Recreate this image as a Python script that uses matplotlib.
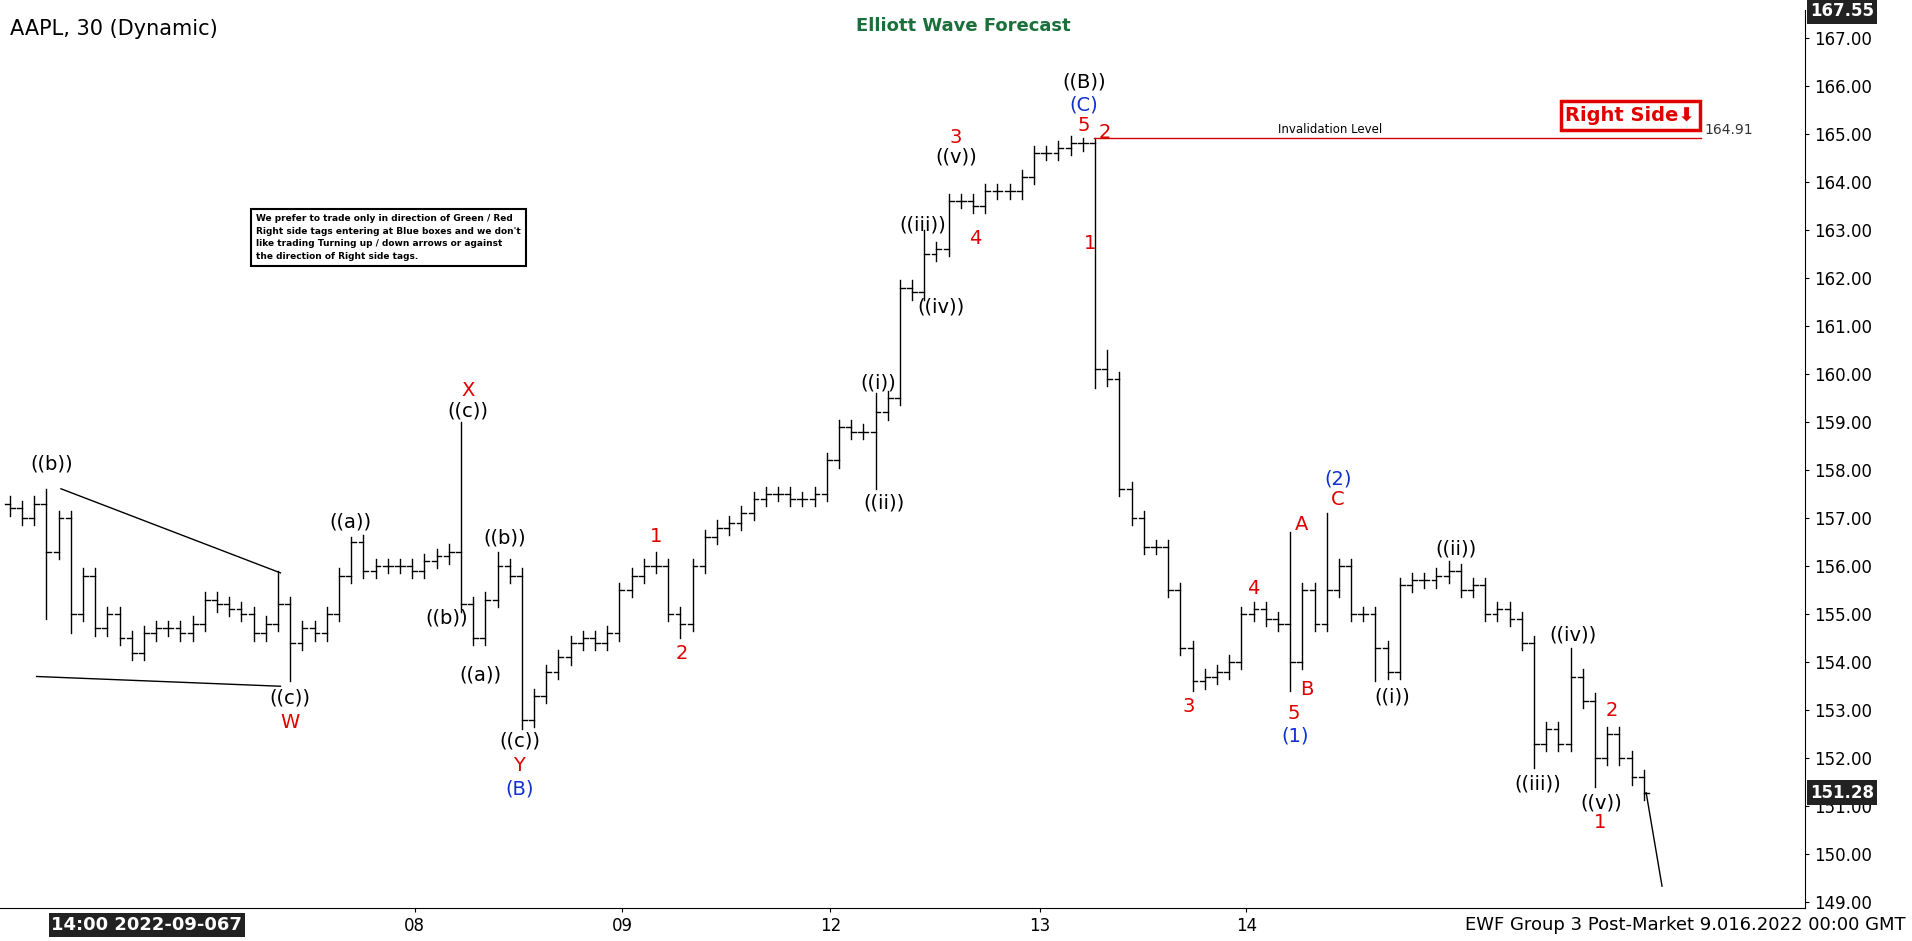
import matplotlib
matplotlib.use("Agg")
import matplotlib.pyplot as plt
from matplotlib.patches import Rectangle

closes = [157.2,157.0,157.3,156.3,157.0,155.0,155.8,154.7,155.0,154.5,154.2,154.6,154.7,154.7,154.6,154.8,
          155.3,155.2,155.1,155.0,154.6,154.8,155.2,154.4,154.7,154.6,155.0,155.8,156.5,155.9,156.0,156.0,
          156.0,155.9,156.1,156.2,156.3,155.2,154.5,155.3,156.0,155.8,152.8,153.3,153.8,154.1,154.4,154.5,
          154.4,154.6,155.5,155.8,156.0,156.0,155.0,154.8,156.0,156.6,156.8,156.9,157.1,157.4,157.5,157.5,
          157.4,157.4,157.5,158.2,158.9,158.8,158.8,159.2,159.5,161.8,161.7,162.5,162.6,163.6,163.6,163.5,
          163.8,163.8,163.8,164.1,164.6,164.6,164.7,164.8,164.8,160.1,159.9,157.6,157.0,156.4,156.4,155.5,
          154.3,153.6,153.7,153.8,154.0,155.0,155.1,154.9,154.8,154.0,155.5,154.8,155.5,156.0,155.0,155.0,
          154.3,153.8,155.6,155.7,155.7,155.8,155.9,155.5,155.6,155.0,155.1,154.9,154.4,152.3,152.6,152.3,
          153.7,153.2,152.0,152.5,152.0,151.6,151.28]
spike_high = {3:157.6, 22:155.9, 28:156.6, 37:159.0, 40:156.3, 53:156.3, 71:159.6, 75:163.0, 88:164.91, 89:164.91, 90:160.5, 105:156.7, 108:157.1, 118:156.1, 128:154.3}
spike_low = {3:154.9, 5:154.6, 23:153.6, 42:152.6, 55:154.5, 71:157.6, 89:159.7, 97:153.4, 105:153.4, 112:153.6, 125:151.8, 130:151.4}
day_labels = ["08","09","12","13","14"]
day_ticks_px = [340,510,681,853,1022]

W, H = 1568, 772
fig = plt.figure(figsize=(19.12, 9.41), dpi=100)
ax = fig.add_axes([0, 1-745/H, 1480/W, (745-8)/H])
def py(y): return 167 - (y-31)/39.4
ax.set_xlim(0, 1480); ax.set_ylim(py(745), py(8))

prev = closes[0]+0.1
for i, c in enumerate(closes):
    x = 8 + 10*i
    o = prev
    hi = spike_high.get(i, max(o, c)+0.15)
    lo = spike_low.get(i, min(o, c)-0.15)
    ax.plot([x, x], [lo, hi], color='black', lw=1)
    ax.plot([x-4, x], [o, o], color='black', lw=1)
    ax.plot([x, x+4], [c, c], color='black', lw=1)
    prev = c
ax.plot([1350, 1363], [151.28, py(727)], color='black', lw=1)
ax.plot([30, 230], [py(555), py(563)], color='black', lw=1)
ax.plot([50, 230], [py(401), py(470)], color='black', lw=1)
ax.plot([897, 1395], [164.91, 164.91], color='#d00000', lw=1)

labels = [(42,381,'((b))','k'),(287,428,'((a))','k'),(238,573,'((c))','k'),(238,593,'W','r'),
          (384,320,'X','r'),(384,337,'((c))','k'),(366,507,'((b))','k'),(394,554,'((a))','k'),
          (414,441,'((b))','k'),(426,608,'((c))','k'),(426,628,'Y','r'),(426,647,'(B)','b'),
          (538,440,'1','r'),(559,536,'2','r'),(720,314,'((i))','k'),(725,413,'((ii))','k'),
          (757,185,'((iii))','k'),(772,252,'((iv))','k'),(784,129,'((v))','k'),(784,113,'3','r'),
          (800,196,'4','r'),(889,67,'((B))','k'),(889,86,'(C)','b'),(889,103,'5','r'),(906,109,'2','r'),
          (894,200,'1','r'),(975,580,'3','r'),(1028,483,'4','r'),(1067,430,'A','r'),(1061,585,'5','r'),
          (1072,566,'B','r'),(1062,604,'(1)','b'),(1097,393,'(2)','b'),(1097,410,'C','r'),
          (1142,572,'((i))','k'),(1194,450,'((ii))','k'),(1261,643,'((iii))','k'),(1290,521,'((iv))','k'),
          (1322,583,'2','r'),(1313,659,'((v))','k'),(1312,675,'1','r')]
cmap = {'k':'black','r':'#e00000','b':'#1030d0'}
for x, y, t, c in labels:
    ax.text(x, py(y), t, color=cmap[c], fontsize=14, ha='center', va='center')

ax.text(1091, py(106), 'Invalidation Level', fontsize=8.5, ha='center', va='center')
ax.text(1398, py(107), '164.91', fontsize=10, ha='left', va='center', color='#333333')
ax.text(1337, py(95), 'Right Side\u2b07', fontsize=14, fontweight='bold', color='#e00000', ha='center', va='center',
        bbox=dict(boxstyle='square,pad=0.25', fc='white', ec='#e00000', lw=2.5))
ax.text(210, py(195),
        "We prefer to trade only in direction of Green / Red\nRight side tags entering at Blue boxes and we don't\n"
        "like trading Turning up / down arrows or against\nthe direction of Right side tags.",
        fontsize=6.5, fontweight='bold', ha='left', va='center', linespacing=1.5,
        bbox=dict(boxstyle='square,pad=0.6', fc='white', ec='black', lw=1.5))

ax.yaxis.tick_right()
ax.set_yticks(range(149, 168))
ax.set_yticklabels([f"{v:.2f}" for v in range(149, 168)], fontsize=12)
ax.set_xticks(day_ticks_px); ax.set_xticklabels(day_labels, fontsize=12)
ax.tick_params(length=3)
for s in ['top', 'left']:
    ax.spines[s].set_visible(False)
for lab, yv in [('167.55', 167.55), ('151.28', 151.28)]:
    ax.text(1.003, yv, lab, transform=ax.get_yaxis_transform(), fontsize=12, fontweight='bold', color='white',
            va='center', ha='left', bbox=dict(boxstyle='square,pad=0.2', fc='#222222', ec='none'))

fig.text(8/W, 1-24/H, 'AAPL, 30 (Dynamic)', fontsize=15, va='center', ha='left')
fig.text(790/W, 1-21/H, 'Elliott Wave Forecast', fontsize=13, fontweight='bold', color='#1a6f3a', va='center', ha='center')
fig.text(1563/W, 1-759/H, 'EWF Group 3 Post-Market 9.016.2022 00:00 GMT', fontsize=13, va='center', ha='right')
fig.text(42/W, 1-759/H, '14:00 2022-09-067', fontsize=13, fontweight='bold', color='white', va='center', ha='left',
         bbox=dict(boxstyle='square,pad=0.15', fc='#222222', ec='none'))
fig.savefig('out.png', dpi=100)
